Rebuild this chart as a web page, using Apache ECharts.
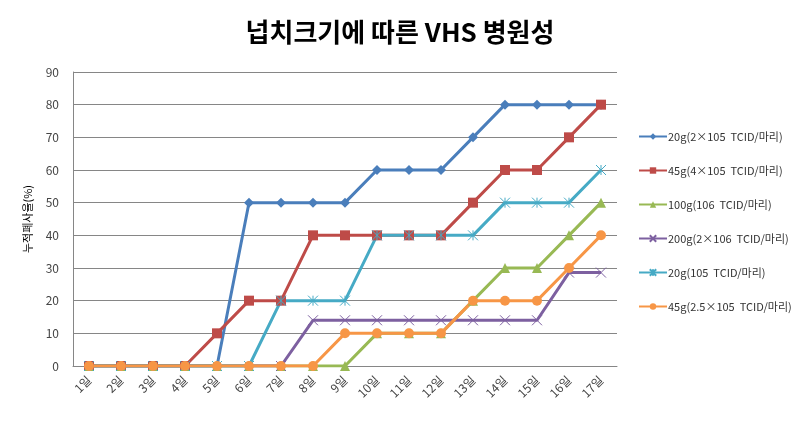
<!DOCTYPE html>
<html>
<head>
<meta charset="utf-8">
<script src="https://cdn.jsdelivr.net/npm/echarts@6/dist/echarts.min.js"></script>
<style>
  html, body { margin: 0; padding: 0; background: #fff; }
  #chart { width: 800px; height: 422px; }
</style>
</head>
<body>
<div id="chart"></div>
<script>
// 일자
const days = ['1일', '2일', '3일', '4일', '5일', '6일', '7일', '8일', '9일',
  '10일', '11일', '12일', '13일', '14일', '15일', '16일', '17일'];
const yTicks = [0, 10, 20, 30, 40, 50, 60, 70, 80, 90];

const names = [
  '20g(2×105  TCID/마리)',
  '45g(4×105  TCID/마리)',
  '100g(106  TCID/마리)',
  '200g(2×106  TCID/마리)',
  '20g(105  TCID/마리)',
  '45g(2.5×105  TCID/마리)'
];

// 누적폐사율 (%)
const s20a = [0, 0, 0, 0, 0, 50, 50, 50, 50, 60, 60, 60, 70, 80, 80, 80, 80];
const s45a = [0, 0, 0, 0, 10, 20, 20, 40, 40, 40, 40, 40, 50, 60, 60, 70, 80];
const s100 = [0, 0, 0, 0, 0, 0, 0, 0, 0, 10, 10, 10, 20, 30, 30, 40, 50];
const s200 = [0, 0, 0, 0, 0, 0, 0, 14, 14, 14, 14, 14, 14, 14, 14, 28.6, 28.6];
const s20b = [0, 0, 0, 0, 0, 0, 20, 20, 20, 40, 40, 40, 40, 50, 50, 50, 60];
const s45b = [0, 0, 0, 0, 0, 0, 0, 0, 10, 10, 10, 10, 20, 20, 20, 30, 40];

const colors = ['#4A7EBB', '#BE4B48', '#98B954', '#7D60A0', '#46AAC5', '#F79646'];
const symX = 'path://M0,0L10,10M10,0L0,10';
const symStar = 'path://M0,0L10,10M10,0L0,10M5,0L5,10';

function mk(i, data, symbol, size, stroke) {
  return {
    name: names[i],
    type: 'line',
    data: data,
    symbol: symbol,
    symbolSize: size,
    showAllSymbol: true,
    lineStyle: { color: colors[i], width: 3 },
    itemStyle: stroke
      ? { color: 'rgba(0,0,0,0)', borderColor: colors[i], borderWidth: 1 }
      : { color: colors[i], borderColor: colors[i], borderWidth: 0 },
    emphasis: { disabled: true },
    animation: false
  };
}

const chart = echarts.init(document.getElementById('chart'));
chart.setOption({
  animation: false,
  title: {
    text: '넙치크기에 따른 VHS 병원성',
    left: 'center',
    top: 14,
    textStyle: {
      fontFamily: 'Noto Sans CJK KR',
      fontSize: 26,
      fontWeight: 'bold',
      color: '#000'
    }
  },
  grid: { left: 73, right: 183, top: 72, bottom: 56 },
  legend: {
    orient: 'vertical',
    left: 633,
    top: 126,
    itemGap: 23,
    itemWidth: 28,
    itemHeight: 8,
    textStyle: { fontFamily: 'Noto Sans CJK KR', fontSize: 11, color: '#333', padding: [0, 0, 0, -4] },
    data: names
  },
  xAxis: {
    type: 'category',
    data: days,
    boundaryGap: true,
    axisLine: { lineStyle: { color: '#868686' } },
    axisTick: { show: false },
    axisLabel: {
      rotate: 45,
      interval: 0,
      margin: 12,
      fontFamily: 'Noto Sans CJK KR',
      fontSize: 12,
      color: '#444'
    }
  },
  yAxis: {
    type: 'value',
    min: yTicks[0],
    max: yTicks[yTicks.length - 1],
    interval: 10,
    name: '누적폐사율(%)',
    nameLocation: 'middle',
    nameGap: 40,
    nameTextStyle: { fontFamily: 'Noto Sans CJK KR', fontSize: 11, color: '#000' },
    axisLine: { show: true, lineStyle: { color: '#868686' } },
    axisTick: { show: false },
    splitLine: { lineStyle: { color: '#868686' } },
    axisLabel: { fontFamily: 'Noto Sans CJK KR', fontSize: 12, color: '#444', margin: 14 }
  },
  series: [
    mk(0, s20a, 'diamond', 10, false),
    mk(1, s45a, 'rect', 10, false),
    mk(2, s100, 'triangle', 10, false),
    mk(3, s200, symX, 10, true),
    mk(4, s20b, symStar, 10, true),
    mk(5, s45b, 'circle', 10, false)
  ]
});
</script>
</body>
</html>
